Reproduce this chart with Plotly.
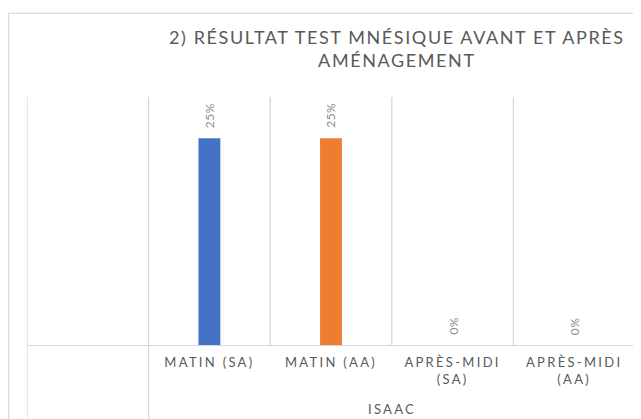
import plotly.graph_objects as go

# Data
group_label = "ISAAC"
categories = ["MATIN (SA)", "MATIN (AA)", "APRÈS-MIDI<br>(SA)", "APRÈS-MIDI<br>(AA)"]
values = [0.25, 0.25, 0.0, 0.0]
bar_colors = ["#4472C4", "#ED7D31", "#A5A5A5", "#FFC000"]
positions = [1, 2, 3, 4]  # slot 0 is the empty first category
title_text = "2) RÉSULTAT TEST MNÉSIQUE AVANT ET APRÈS<br>AMÉNAGEMENT"

FONT = "Lato, 'Liberation Sans', sans-serif"
AXIS_GREY = "#595959"
LABEL_GREY = "#8c8c8c"
GRID = "#d9d9d9"


def spaced(text, px):
    return f'<span style="letter-spacing:{px}px">{text}</span>'


fig = go.Figure()

fig.add_trace(go.Bar(
    x=positions,
    y=values,
    width=0.18,
    marker=dict(color=bar_colors, line=dict(width=0)),
    hoverinfo="skip",
    showlegend=False,
))

# rotated data labels above each bar
for xp, v in zip(positions, values):
    fig.add_annotation(
        x=xp, y=v, xref="x", yref="y",
        text=spaced(f"{v:.0%}", 0.5),
        textangle=-90,
        showarrow=False,
        xanchor="center", yanchor="bottom",
        yshift=8,
        font=dict(family=FONT, size=12, color=LABEL_GREY),
    )

# category boundaries (gridlines) inside the plot
shapes = []
for b in [-0.5, 0.5, 1.5, 2.5, 3.5, 4.5]:
    shapes.append(dict(type="line", xref="x", yref="paper", x0=b, x1=b, y0=0, y1=1,
                       line=dict(color=GRID, width=1.3), layer="below"))
# multi-level separators below the axis
for b in [-0.5, 0.5, 4.5]:
    shapes.append(dict(type="line", xref="x", yref="paper", x0=b, x1=b, y0=0, y1=-0.5,
                       line=dict(color=GRID, width=1.3), layer="below"))
# chart area border (only top/left visible)
shapes.append(dict(type="rect", xref="paper", yref="paper", x0=-0.0304, x1=1.3, y0=-0.6, y1=1.337,
                   line=dict(color=GRID, width=1.3), fillcolor="rgba(0,0,0,0)", layer="below"))

fig.update_layout(
    width=633,
    height=411,
    margin=dict(l=19, r=6, t=89, b=74),
    paper_bgcolor="white",
    plot_bgcolor="white",
    shapes=shapes,
    xaxis=dict(
        range=[-0.5, 4.5],
        tickvals=positions,
        ticktext=[spaced(c, 2.3) for c in categories],
        showgrid=False,
        zeroline=False,
        showline=True,
        linecolor=GRID,
        linewidth=1.3,
        ticks="",
        ticklabelstandoff=5,
        tickfont=dict(family=FONT, size=13, color=AXIS_GREY),
        fixedrange=True,
    ),
    yaxis=dict(
        range=[0, 0.30],
        visible=False,
        fixedrange=True,
    ),
)

fig.add_annotation(
    x=2.5, y=-0.26, xref="x", yref="paper",
    text=spaced(group_label, 2.3),
    showarrow=False,
    xanchor="center", yanchor="middle",
    font=dict(family=FONT, size=13, color=AXIS_GREY),
)

fig.add_annotation(
    x=0.6086, y=1.194, xref="paper", yref="paper",
    text=spaced(title_text, 1.6),
    showarrow=False,
    xanchor="center", yanchor="middle",
    font=dict(family=FONT, size=18, color=AXIS_GREY),
)

fig.write_html("out.html")
